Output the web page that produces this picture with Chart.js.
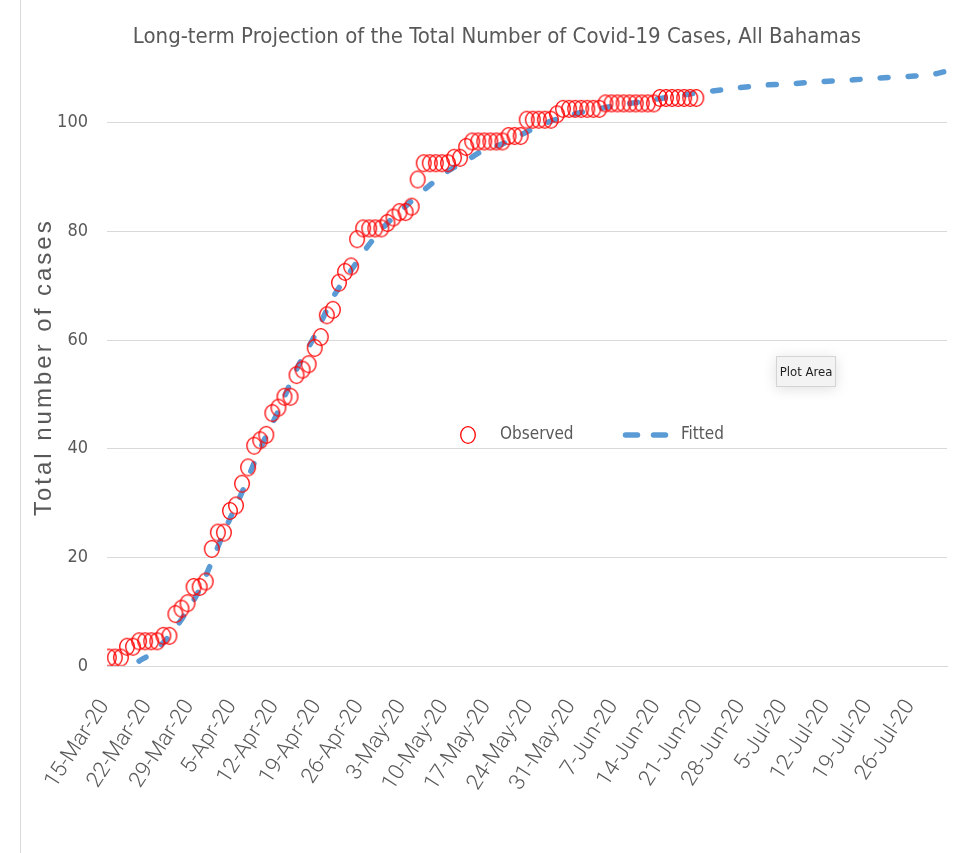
<!DOCTYPE html>
<html>
<head>
<meta charset="utf-8">
<script src="https://cdn.jsdelivr.net/npm/chart.js@4.4.0/dist/chart.umd.min.js"></script>
<style>
  html, body { margin: 0; padding: 0; background: #fff; }
  #edge { position: absolute; left: 20px; top: 0; width: 1px; height: 853px; background: #d9d9d9; }
  #frame { position: absolute; left: 21px; top: 0; width: 956px; height: 853px; }
  #tip {
    position: absolute; left: 776px; top: 356px; width: 60px; height: 31px;
    background: #f3f3f3; border: 1px solid #d4d4d4; box-sizing: border-box;
    box-shadow: 0 2px 14px rgba(0,0,0,0.13); white-space: nowrap;
    font: 13px 'Liberation Sans Narrow', 'DejaVu Sans Condensed', 'Roboto', sans-serif;
    color: #1e1e1e; display: flex; align-items: center; justify-content: center;
  }
</style>
</head>
<body>
<div id="edge"></div>
<div id="frame"><canvas id="c" width="956" height="853"></canvas></div>
<div id="tip">Plot Area</div>
<script>
'use strict';

// ── Data (day 0 = 15-Mar-20) ────────────────────────────────────────────────

const tickLabels = ['15-Mar-20', '22-Mar-20', '29-Mar-20', '5-Apr-20', '12-Apr-20', '19-Apr-20',
  '26-Apr-20', '3-May-20', '10-May-20', '17-May-20', '24-May-20', '31-May-20', '7-Jun-20',
  '14-Jun-20', '21-Jun-20', '28-Jun-20', '5-Jul-20', '12-Jul-20', '19-Jul-20', '26-Jul-20'];

const yTicks = [0, 20, 40, 60, 80, 100];

// observed cumulative cases, one value per day from 15-Mar
const observed = [
  1, 1, 1, 3, 3, 4, 4, 4, 4, 5, 5, 9, 10, 11, 14, 14, 15,
  21, 24, 24, 28, 29, 33, 36, 40, 41, 42, 46, 47, 49, 49, 53, 54,
  55, 58, 60, 64, 65,
  70, 72, 73, 78, 80, 80, 80, 80, 81, 82, 83, 83, 84,
  89, 92, 92, 92, 92, 92, 93, 93, 95,
  96, 96, 96, 96, 96, 96, 97, 97, 97,
  100, 100, 100, 100, 100, 101,
  102, 102, 102, 102, 102, 102, 102,
  103, 103, 103, 103, 103, 103, 103, 103, 103,
  104, 104, 104, 104, 104, 104, 104
];

// fitted curve, read at these days
const fitDays = [5, 7, 9, 11, 13, 15, 17, 19, 22, 25, 28, 31, 34, 37, 40, 43, 46, 50, 53, 56,
  59, 62, 65, 69, 73, 78, 83, 88, 93, 98, 103, 108, 113, 118, 123, 128, 133, 136, 138];
const fitValues = [0.9, 2.3, 4.3, 7.0, 10.3, 14.1, 19.2, 24.6, 32.0, 40.0, 47.0, 54.6, 60.8, 67.8,
  72.8, 77.6, 81.5, 85.6, 88.5, 91.1, 93.0, 95.0, 96.1, 98.3, 100.3, 101.9, 103.0, 103.9, 104.8,
  105.6, 106.3, 106.9, 107.2, 107.6, 107.9, 108.3, 108.6, 108.9, 109.4];

// ── Style ───────────────────────────────────────────────────────────────────

const NARROW = "'Liberation Sans Narrow', 'DejaVu Sans Condensed', 'Roboto', sans-serif";
const WIDE = "'Liberation Sans', Arial, sans-serif";
const TEXT = '#595959';
const RED = '#ff0000';
const BLUE = '#5b9bd5';

// open red ellipse; drawn a little above the point like the Excel marker
function makeRing(color, lift) {
  const c = document.createElement('canvas');
  c.width = 18; c.height = 20 + lift * 2;
  const g = c.getContext('2d');
  g.strokeStyle = color;
  g.lineWidth = 1.3;
  g.beginPath();
  g.ellipse(9, 10, 7.3, 8.4, 0, 0, Math.PI * 2);
  g.stroke();
  return c;
}
const ring = makeRing(RED, 3);
const legendRing = makeRing(RED, 0);

// legend inside the plot area + spaced-out y axis title
const extras = {
  id: 'extras',
  afterLayout(chart, args, o) {
    // Excel centres the title over the whole frame, not the padded box
    chart.titleBlock.left += o.titleShift;
    chart.titleBlock.right += o.titleShift;
  },
  afterDatasetsDraw(chart, args, o) {
    const ctx = chart.ctx;
    const ds = chart.data.datasets;
    ctx.save();
    ctx.font = `${o.size}px ${NARROW}`;
    ctx.fillStyle = TEXT;
    ctx.textBaseline = 'middle';
    ctx.drawImage(legendRing, o.markX - 9, o.y - 10);
    ctx.fillText(ds[0].label, o.text1X, o.y);
    ctx.strokeStyle = BLUE;
    ctx.lineWidth = 5.5;
    ctx.lineCap = 'round';
    ctx.setLineDash([12, 16]);
    ctx.beginPath();
    ctx.moveTo(o.lineX1, o.y);
    ctx.lineTo(o.lineX2, o.y);
    ctx.stroke();
    ctx.setLineDash([]);
    ctx.fillText(ds[1].label, o.text2X, o.y);

    const area = chart.chartArea;
    ctx.translate(o.yTitleX, (area.top + area.bottom) / 2);
    ctx.rotate(-Math.PI / 2);
    ctx.font = `${o.yTitleSize}px ${WIDE}`;
    ctx.letterSpacing = o.yTitleSpacing;
    ctx.textAlign = 'center';
    ctx.fillText(o.yTitle, 0, 0);
    ctx.letterSpacing = '0px';
    ctx.restore();
  }
};

new Chart(document.getElementById('c'), {
  type: 'line',
  data: {
    datasets: [
      {
        label: 'Observed',
        data: observed.map((v, i) => ({ x: i, y: v })),
        showLine: false,
        pointStyle: ring,
        pointRadius: 8,
        borderColor: RED,
        backgroundColor: 'transparent'
      },
      {
        label: 'Fitted',
        data: fitDays.map((d, i) => ({ x: d, y: fitValues[i] })),
        borderColor: BLUE,
        borderWidth: 5.5,
        borderDash: [8, 20],
        borderCapStyle: 'round',
        cubicInterpolationMode: 'monotone',
        pointRadius: 0,
        fill: false
      }
    ]
  },
  options: {
    responsive: false,
    animation: false,
    events: [],
    devicePixelRatio: 1,
    layout: { padding: { left: 0, right: 30, top: 0, bottom: 0 } },
    plugins: {
      legend: { display: false },
      tooltip: { enabled: false },
      title: {
        display: true,
        text: 'Long-term Projection of the Total Number of Covid-19 Cases, All Bahamas',
        color: TEXT,
        font: { family: NARROW, size: 22, weight: 'normal', lineHeight: 1.2 },
        padding: { top: 24, bottom: 18 }
      },
      extras: {
        titleShift: 13,
        y: 435, size: 17, markX: 447, text1X: 479, lineX1: 604.5, lineX2: 644.5, text2X: 660,
        yTitle: 'Total number of cases', yTitleX: 23, yTitleSize: 24, yTitleSpacing: '3px'
      }
    },
    scales: {
      x: {
        type: 'linear',
        min: -0.3,
        max: 138.4,
        afterBuildTicks: axis => { axis.ticks = tickLabels.map((_, i) => ({ value: i * 7 })); },
        afterFit: axis => { axis.height = 187; },
        grid: { display: false },
        border: { display: true, color: '#d9d9d9', width: 1 },
        ticks: {
          autoSkip: false,
          minRotation: 57,
          maxRotation: 57,
          padding: 21,
          labelOffset: -4,
          color: TEXT,
          font: { family: "Roboto, 'Liberation Sans', sans-serif", size: 22, weight: 300 },
          callback: v => tickLabels[Math.round(v / 7)]
        }
      },
      y: {
        min: 0,
        max: 110,
        afterBuildTicks: axis => { axis.ticks = yTicks.map(v => ({ value: v })); },
        afterFit: axis => { axis.width = 86; },
        grid: { color: '#d9d9d9', lineWidth: 1, drawTicks: false },
        border: { display: false },
        ticks: {
          padding: 19,
          color: TEXT,
          font: { family: NARROW, size: 18 }
        }
      }
    }
  },
  plugins: [extras]
});
</script>
</body>
</html>
